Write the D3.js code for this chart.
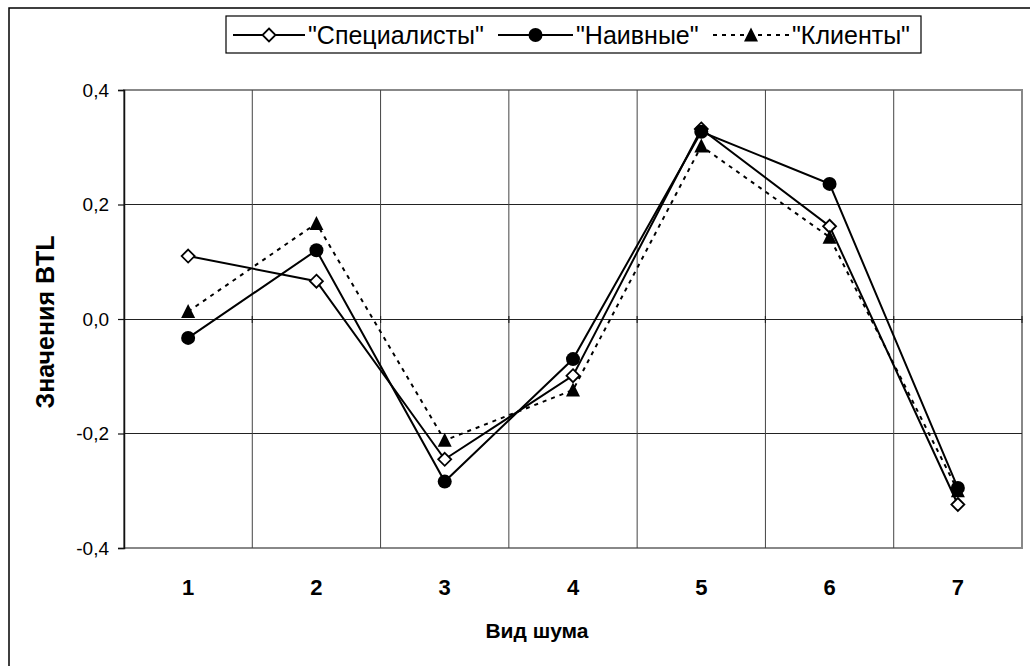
<!DOCTYPE html>
<html>
<head>
<meta charset="utf-8">
<script src="https://cdn.jsdelivr.net/npm/d3@7"></script>
<style>
  html, body { margin: 0; padding: 0; background: #fff; }
  svg { display: block; }
  text { font-family: "Liberation Sans", Arial, sans-serif; fill: #000; }
</style>
</head>
<body>
<svg id="chart" width="1030" height="666"></svg>
<script>
// Noise types on the category axis
const categories = ["1", "2", "3", "4", "5", "6", "7"];

// BTL values per listener group
const specialists = [0.110, 0.066, -0.245, -0.099, 0.332, 0.162, -0.324];
const naive       = [-0.033, 0.120, -0.284, -0.070, 0.327, 0.236, -0.295];
const clients     = [0.013, 0.167, -0.212, -0.124, 0.302, 0.143, -0.300];

const yTicks = [-0.4, -0.2, 0.0, 0.2, 0.4];
const seriesNames = ['"Специалисты"', '"Наивные"', '"Клиенты"'];

const series = [
  { name: seriesNames[0], values: specialists, symbol: "diamond", dash: null },
  { name: seriesNames[1], values: naive, symbol: "circle", dash: null },
  { name: seriesNames[2], values: clients, symbol: "triangle", dash: "4,5" }
];

const svg = d3.select("#chart");
const plot = { left: 124, right: 1022, top: 90, bottom: 548 };

const x = d3.scaleBand().domain(categories).range([plot.left, plot.right]).padding(0);
const y = d3.scaleLinear().domain([-0.4, 0.4]).range([plot.bottom, plot.top]);
const cx = c => x(c) + x.bandwidth() / 2;

// outer chart frame
svg.append("rect")
  .attr("x", 9).attr("y", 8).attr("width", 1040).attr("height", 680)
  .attr("fill", "none").attr("stroke", "#000").attr("stroke-width", 1.5);

// plot area border
svg.append("rect")
  .attr("x", plot.left).attr("y", plot.top)
  .attr("width", plot.right - plot.left).attr("height", plot.bottom - plot.top)
  .attr("fill", "none").attr("stroke", "#888").attr("stroke-width", 2);

// horizontal gridlines
svg.append("g").selectAll("line")
  .data(yTicks.filter(t => t !== 0 && Math.abs(t) < 0.4))
  .join("line")
  .attr("x1", plot.left).attr("x2", plot.right)
  .attr("y1", d => y(d)).attr("y2", d => y(d))
  .attr("stroke", "#222").attr("stroke-width", 1);

// vertical gridlines at category boundaries
svg.append("g").selectAll("line")
  .data(categories.slice(1))
  .join("line")
  .attr("x1", d => x(d)).attr("x2", d => x(d))
  .attr("y1", plot.top).attr("y2", plot.bottom)
  .attr("stroke", "#444").attr("stroke-width", 1);

// category axis crossing at zero, tick marks across the line
const xAxis = d3.axisBottom(x).tickSize(0).tickFormat("");
const xg = svg.append("g").attr("transform", `translate(0,${y(0)})`).call(xAxis);
xg.select(".domain").attr("stroke", "#222").attr("stroke-width", 1.2);
xg.append("g").selectAll("line")
  .data(categories.slice(1).concat(["end"]))
  .join("line")
  .attr("x1", d => d === "end" ? plot.right : x(d))
  .attr("x2", d => d === "end" ? plot.right : x(d))
  .attr("y1", -3).attr("y2", 4)
  .attr("stroke", "#222").attr("stroke-width", 1.2);

// category labels below the plot
svg.append("g").selectAll("text")
  .data(categories)
  .join("text")
  .attr("x", d => cx(d)).attr("y", 595)
  .attr("text-anchor", "middle")
  .attr("font-size", 22).attr("font-weight", "bold")
  .text(d => d);

// value axis
const yAxis = d3.axisLeft(y).tickValues(yTicks).tickSize(6).tickPadding(9)
  .tickFormat(d => d3.format(".1f")(d).replace(".", ",").replace("−", "-"));
const yg = svg.append("g").attr("transform", `translate(${plot.left},0)`).call(yAxis);
yg.select(".domain").attr("stroke", "#111").attr("stroke-width", 1.5);
yg.selectAll(".tick line").attr("stroke", "#111").attr("stroke-width", 1.2);
yg.selectAll(".tick text")
  .style("font-family", '"Liberation Sans", Arial, sans-serif')
  .attr("font-size", 19).attr("fill", "#000");

// axis titles
svg.append("text")
  .attr("x", 537).attr("y", 638)
  .attr("text-anchor", "middle")
  .attr("font-size", 21).attr("font-weight", "bold")
  .text("Вид шума");

svg.append("text")
  .attr("transform", "translate(54,322) rotate(-90)")
  .attr("text-anchor", "middle")
  .attr("font-size", 25).attr("font-weight", "bold")
  .text("Значения BTL");

// marker drawing
function drawMarker(g, type, px, py) {
  if (type === "diamond") {
    const s = 6.5;
    g.append("path")
      .attr("d", `M${px},${py - s}L${px + s},${py}L${px},${py + s}L${px - s},${py}Z`)
      .attr("fill", "#fff").attr("stroke", "#000").attr("stroke-width", 1.8);
  } else if (type === "circle") {
    g.append("circle").attr("cx", px).attr("cy", py).attr("r", 7)
      .attr("fill", "#000");
  } else {
    const h = 13, w = 14;
    g.append("path")
      .attr("d", `M${px},${py - h / 2 - 1}L${px + w / 2},${py + h / 2}L${px - w / 2},${py + h / 2}Z`)
      .attr("fill", "#000");
  }
}

const line = d3.line().x((d, i) => cx(categories[i])).y(d => y(d));

const linesG = svg.append("g");
series.forEach(s => {
  linesG.append("path")
    .datum(s.values)
    .attr("d", line)
    .attr("fill", "none")
    .attr("stroke", "#000")
    .attr("stroke-width", 2)
    .attr("stroke-dasharray", s.dash);
});
const marksG = svg.append("g");
series.forEach(s => {
  s.values.forEach((v, i) => drawMarker(marksG, s.symbol, cx(categories[i]), y(v)));
});

// legend
const legend = svg.append("g");
legend.append("rect")
  .attr("x", 226).attr("y", 16).attr("width", 695).attr("height", 37)
  .attr("fill", "#fff").attr("stroke", "#000").attr("stroke-width", 1.2);

const legendPos = [
  { lx1: 233, lx2: 305, tx: 308 },
  { lx1: 498, lx2: 573, tx: 576 },
  { lx1: 713, lx2: 789, tx: 792 }
];
series.forEach((s, i) => {
  const p = legendPos[i];
  const ly = 35;
  legend.append("line")
    .attr("x1", p.lx1).attr("x2", p.lx2).attr("y1", ly).attr("y2", ly)
    .attr("stroke", "#000").attr("stroke-width", 2)
    .attr("stroke-dasharray", s.dash);
  drawMarker(legend, s.symbol, (p.lx1 + p.lx2) / 2, ly);
  legend.append("text")
    .attr("x", p.tx).attr("y", ly + 9)
    .attr("font-size", 25)
    .text(s.name);
});
</script>
</body>
</html>
